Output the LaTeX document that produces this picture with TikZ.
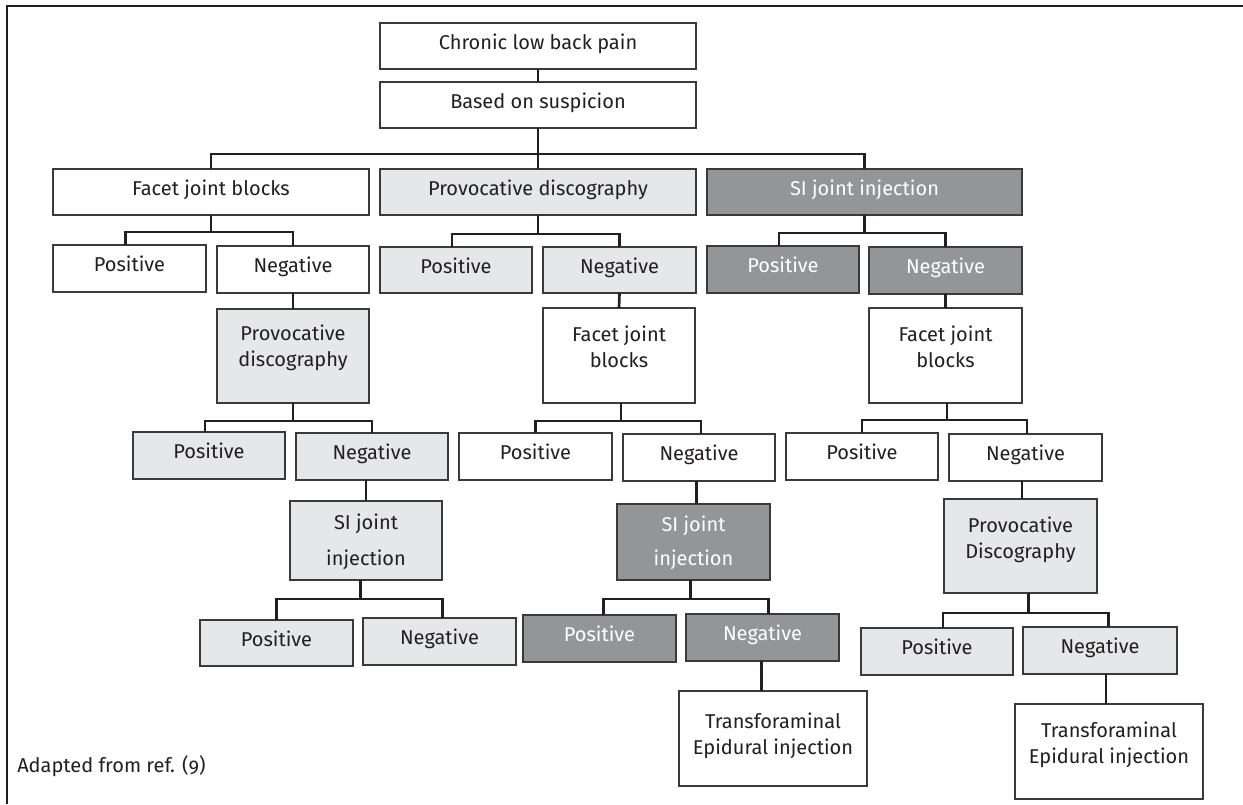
\documentclass[tikz,border=0pt]{standalone}
\usepackage{fontspec}
\setmainfont{Fira Sans}
\usetikzlibrary{calc}
\definecolor{ink}{HTML}{231F20}
\definecolor{edge}{HTML}{3A3A3A}
\definecolor{lightg}{HTML}{E6E7E8}
\definecolor{darkg}{HTML}{939598}
\newcommand\txtup[2]{\raisebox{#1}[\height][\depth]{#2}}
\newcommand\twol[2]{\begin{tabular}{@{}c@{}}#1\\#2\end{tabular}}
\newcommand\mybox[7]{\node[bx,#6,minimum width={(#4-#2)*0.75pt},minimum height={(#5-#3)*0.75pt}] (#1) at ({(#2+#4)/2},{(#3+#5)/2}) {#7};}
\tikzset{
  bx/.style={draw=edge, line width=0.9pt, inner sep=0pt, outer sep=0pt, text=ink,
    font=\fontsize{15pt}{19.5pt}\selectfont},
  one/.style={text height=8.2pt, text depth=3.5pt},
  wt/.style={fill=white},
  lt/.style={fill=lightg},
  dk/.style={fill=darkg, text=white},
  conn/.style={draw=ink, line width=2pt},
  frameline/.style={draw=ink, line width=2pt}
}
\begin{document}
\begin{tikzpicture}[x=0.75pt,y=-0.75pt]
\useasboundingbox (0,0) rectangle (1243,804);
\draw[frameline] (7,804) -- (7,6) -- (1243,6);
% row 0
\mybox{clbp}{380}{23}{696}{69}{wt,one}{Chronic low back pain}
\mybox{bos}{380}{82}{696}{128}{wt,one}{Based on suspicion}
% row 1
\mybox{f1}{53}{169}{369}{215}{wt,one}{Facet joint blocks}
\mybox{p1}{380}{169}{696}{215}{lt,one}{Provocative discography}
\mybox{s1}{707}{169}{1022}{215}{dk,one}{SI joint injection}
% row 2
\mybox{f1p}{53}{245}{206}{292}{wt,one}{Positive}
\mybox{f1n}{217}{246}{369}{293}{wt,one}{Negative}
\mybox{p1p}{380}{247}{532}{293}{lt,one}{Positive}
\mybox{p1n}{543}{247}{696}{293}{lt,one}{Negative}
\mybox{s1p}{707}{246}{859}{293}{dk,one}{Positive}
\mybox{s1n}{869}{247}{1022}{294}{dk,one}{Negative}
% row 3
\mybox{p2}{217}{309}{369}{403}{lt}{\txtup{6pt}{\twol{Provocative}{discography}}}
\mybox{f2}{543}{308}{695}{403}{wt}{\txtup{5pt}{\twol{Facet joint}{blocks}}}
\mybox{f3}{869}{308}{1022}{403}{wt}{\txtup{5pt}{\twol{Facet joint}{blocks}}}
% row 4
\mybox{p2p}{133}{432}{285}{479}{lt,one}{Positive}
\mybox{p2n}{296}{433}{448}{480}{lt,one}{Negative}
\mybox{f2p}{459}{433}{612}{480}{wt,one}{Positive}
\mybox{f2n}{623}{434}{775}{481}{wt,one}{Negative}
\mybox{f3p}{786}{433}{938}{480}{wt,one}{Positive}
\mybox{f3n}{949}{434}{1102}{481}{wt,one}{Negative}
% row 5
\mybox{s2}{290}{501}{442}{580}{lt}{\txtup{-1pt}{\begin{tabular}{@{}c@{}}SI joint\\[7.5pt]injection\end{tabular}}}
\mybox{s3}{617}{504}{770}{580}{dk}{\txtup{-1.3pt}{\begin{tabular}{@{}c@{}}SI joint\\[6pt]injection\end{tabular}}}
\mybox{p3}{944}{499}{1097}{593}{lt}{\txtup{4pt}{\twol{Provocative}{Discography}}}
% row 6
\mybox{s2p}{200}{620}{353}{666}{lt,one}{Positive}
\mybox{s2n}{363}{618}{516}{665}{lt,one}{Negative}
\mybox{s3p}{523}{615}{676}{662}{dk,one}{Positive}
\mybox{s3n}{686}{614}{839}{661}{dk,one}{Negative}
\mybox{p3p}{861}{628}{1013}{675}{lt,one}{Positive}
\mybox{p3n}{1023}{627}{1177}{674}{lt,one}{Negative}
% row 7
\mybox{t1}{679}{691}{867}{786}{wt}{\txtup{2pt}{\twol{Transforaminal}{Epidural injection}}}
\mybox{t2}{1015}{704}{1203}{799}{wt}{\txtup{5pt}{\twol{Transforaminal}{Epidural injection}}}
% source note
\node[anchor=base west, inner sep=0pt, text=ink, font=\fontsize{15pt}{19.5pt}\selectfont] (src) at (17,772)
  {Adapted from ref. {\addfontfeatures{Numbers=OldStyle}(9)}};
% bus levels
\coordinate (y1) at (0,154);
\coordinate (y2a) at (0,232);
\coordinate (y2b) at (0,234);
\coordinate (y2c) at (0,233);
\coordinate (y4a) at (0,421);
\coordinate (y4b) at (0,421);
\coordinate (y4c) at (0,420);
\coordinate (y6a) at (0,599);
\coordinate (y6b) at (0,599);
\coordinate (y6c) at (0,613);
% connectors
\draw[conn] (clbp.south) -- (bos.north);
\draw[conn] (bos.south) -- (bos.south |- y1);
\draw[conn] (f1.north) |- (s1.north |- y1) -- (s1.north);
\draw[conn] (p1.north) -- (p1.north |- y1);
% facet row
\draw[conn] (f1.south) -- (f1.south |- y2a);
\draw[conn] ([xshift=-3pt]f1p.north) |- (f1n.north |- y2a) -- (f1n.north);
\draw[conn] (p1.south) -- (p1.south |- y2b);
\draw[conn] ([xshift=-3pt]p1p.north) |- (p1n.north |- y2b) -- (p1n.north);
\draw[conn] (s1.south) -- (s1.south |- y2c);
\draw[conn] ([xshift=-3pt]s1p.north) |- (s1n.north |- y2c) -- (s1n.north);
\draw[conn] (f1n.south) -- (p2.north);
\draw[conn] (p1n.south) -- (f2.north);
\draw[conn] (s1n.south) -- (f3.north);
% row 4 buses
\draw[conn] (p2.south) -- (p2.south |- y4a);
\draw[conn] ([xshift=-3pt]p2p.north) |- (p2n.north |- y4a) -- (p2n.north);
\draw[conn] ([xshift=1.5pt]f2.south) -- ([xshift=1.5pt]f2.south |- y4b);
\draw[conn] (f2p.north) |- ([xshift=1.5pt]f2n.north |- y4b) -- ([xshift=1.5pt]f2n.north);
\draw[conn] ([xshift=1pt]f3.south) -- ([xshift=1pt]f3.south |- y4c);
\draw[conn] (f3p.north) |- ([xshift=1pt]f3n.north |- y4c) -- ([xshift=1pt]f3n.north);
\draw[conn] (s2.north |- p2n.south) -- (s2.north);
\draw[conn] ([xshift=2pt]s3.north |- f2n.south) -- ([xshift=2pt]s3.north);
\draw[conn] ([xshift=1pt]p3.north |- f3n.south) -- ([xshift=1pt]p3.north);
% row 6 buses
\draw[conn] ([xshift=-4pt]s2.south) -- ([xshift=-4pt]s2.south |- y6a);
\draw[conn] (s2p.north) |- ([xshift=2pt]s2n.north |- y6a) -- ([xshift=2pt]s2n.north);
\draw[conn] ([xshift=-2.5pt]s3.south) -- ([xshift=-2.5pt]s3.south |- y6b);
\draw[conn] ([xshift=3pt]s3p.north) |- ([xshift=4.5pt]s3n.north |- y6b) -- ([xshift=4.5pt]s3n.north);
\draw[conn] ([xshift=6pt]p3.south) -- ([xshift=6pt]p3.south |- y6c);
\draw[conn] ([xshift=4.5pt]p3p.north) |- ([xshift=6.5pt]p3n.north |- y6c) -- ([xshift=6.5pt]p3n.north);
% to transforaminal
\draw[conn] ([xshift=-1pt]s3n.south) -- ([xshift=-1pt]s3n.south |- t1.north);
\draw[conn] ([xshift=4.5pt]p3n.south) -- ([xshift=4.5pt]p3n.south |- t2.north);
\end{tikzpicture}
\end{document}
